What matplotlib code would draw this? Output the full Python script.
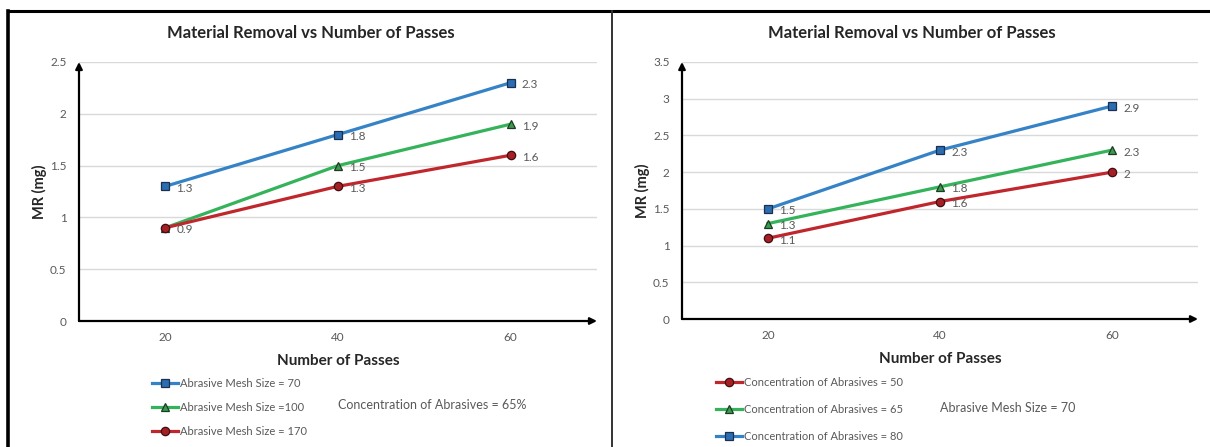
import matplotlib
matplotlib.use("Agg")
import matplotlib.pyplot as plt
from matplotlib.lines import Line2D

plt.rcParams['font.family'] = ['Lato', 'DejaVu Sans']

# ---- data ----
passes = [20, 40, 60]

mesh_labels = ["Abrasive Mesh Size = 70", "Abrasive Mesh Size =100", "Abrasive Mesh Size = 170"]
mr_mesh_70 = [1.3, 1.8, 2.3]
mr_mesh_100 = [0.9, 1.5, 1.9]
mr_mesh_170 = [0.9, 1.3, 1.6]

conc_labels = ["Concentration of Abrasives = 50", "Concentration of Abrasives = 65",
               "Concentration of Abrasives = 80"]
mr_conc_50 = [1.1, 1.6, 2.0]
mr_conc_65 = [1.3, 1.8, 2.3]
mr_conc_80 = [1.5, 2.3, 2.9]

left_yticks = [0, 0.5, 1, 1.5, 2, 2.5]
right_yticks = [0, 0.5, 1, 1.5, 2, 2.5, 3, 3.5]

# ---- styles ----
BLUE = dict(color="#3583C6", marker="s", mfc="#2A6DB2", mec="#1C2F4F")
GREEN = dict(color="#35B35B", marker="^", mfc="#3A9A4E", mec="#1E3A22")
RED = dict(color="#C0272D", marker="o", mfc="#A51F24", mec="#3E0E10")
GRID = "#D9D9D9"
TXT = "#595959"

W, H = 1210, 447
fig = plt.figure(figsize=(W / 100, H / 100), dpi=100)


def px_rect(x0, y0, x1, y1):
    return [x0 / W, 1 - y1 / H, (x1 - x0) / W, (y1 - y0) / H]


def draw_panel(ax, series, labels, yticks, note, note_xy, leg_xy, leg_spacing, title_x):
    handles = []
    labelled = set()
    for vals, (lab, style) in zip(series, labels):
        h, = ax.plot(passes, vals, lw=2.3, ms=6, mew=0.9, label=lab, zorder=3, **style)
        handles.append(h)
        for x, v in zip(passes, vals):
            if (x, v) in labelled:  # coincident points share one value label
                continue
            labelled.add((x, v))
            ax.annotate(f"{v:g}", (x, v), xytext=(8, -1.5), textcoords="offset points",
                        ha="left", va="center", fontsize=8.5, color=TXT, zorder=4)
    ax.set_xlim(10, 70)
    ax.set_ylim(yticks[0], yticks[-1])
    ax.set_xticks(passes)
    ax.set_xticklabels([str(p) for p in passes])
    ax.set_yticks(yticks)
    ax.set_yticklabels([f"{t:g}" for t in yticks])
    ax.tick_params(length=0, labelsize=8.5, colors=TXT)
    ax.tick_params(axis="x", pad=8)
    ax.tick_params(axis="y", pad=9)
    for s in ax.spines.values():
        s.set_visible(False)
    ax.grid(axis="y", color=GRID, lw=1)
    ax.set_axisbelow(True)
    # axis arrows
    ax.annotate("", xy=(0, 1.0), xytext=(0, 0), xycoords="axes fraction",
                arrowprops=dict(arrowstyle="-|>", color="black", lw=1.6,
                                mutation_scale=10, shrinkA=0, shrinkB=0), zorder=5)
    ax.annotate("", xy=(1.0, 0), xytext=(0, 0), xycoords="axes fraction",
                arrowprops=dict(arrowstyle="-|>", color="black", lw=1.6,
                                mutation_scale=10, shrinkA=0, shrinkB=0), zorder=5)
    # chart title, centred over the whole panel
    fig.text(title_x / W, 1 - 33 / H, "Material Removal vs Number of Passes",
             fontsize=12, fontweight="bold", color="#262626", ha="center", va="center")
    ax.set_xlabel("Number of Passes", fontsize=11, fontweight="bold",
                  color="#262626", labelpad=8)
    ax.set_ylabel("MR (mg)", fontsize=10.5, fontweight="bold", color="#262626",
                  labelpad=2)
    ax.legend(handles=handles, loc="upper left",
              bbox_to_anchor=(leg_xy[0] / W, 1 - leg_xy[1] / H),
              bbox_transform=fig.transFigure, frameon=False, fontsize=8,
              handlelength=2.35, handletextpad=0.15, labelspacing=leg_spacing,
              borderpad=0, borderaxespad=0, labelcolor=TXT)
    fig.text(note_xy[0] / W, 1 - note_xy[1] / H, note, fontsize=9, color=TXT,
             ha="left", va="center")


ax1 = fig.add_axes(px_rect(79, 62, 597, 321))
draw_panel(ax1, [mr_mesh_70, mr_mesh_100, mr_mesh_170],
           list(zip(mesh_labels, [BLUE, GREEN, RED])),
           left_yticks, "Concentration of Abrasives = 65%", (338, 405),
           (152, 378), 1.15, 311)

ax2 = fig.add_axes(px_rect(682, 62, 1198, 319))
draw_panel(ax2, [mr_conc_50, mr_conc_65, mr_conc_80],
           list(zip(conc_labels, [RED, GREEN, BLUE])),
           right_yticks, "Abrasive Mesh Size = 70", (940, 408),
           (716, 377), 1.45, 912)

# panel frames
fig.add_artist(Line2D([8 / W, 1], [1 - 11 / H, 1 - 11 / H], color="black", lw=2.2,
                      transform=fig.transFigure))
fig.add_artist(Line2D([8 / W, 8 / W], [0, 1 - 11 / H], color="black", lw=2.6,
                      transform=fig.transFigure))
fig.add_artist(Line2D([612 / W, 612 / W], [0, 1 - 11 / H], color="#333333", lw=1.4,
                      transform=fig.transFigure))

fig.savefig("out.png", dpi=100, facecolor="white")
